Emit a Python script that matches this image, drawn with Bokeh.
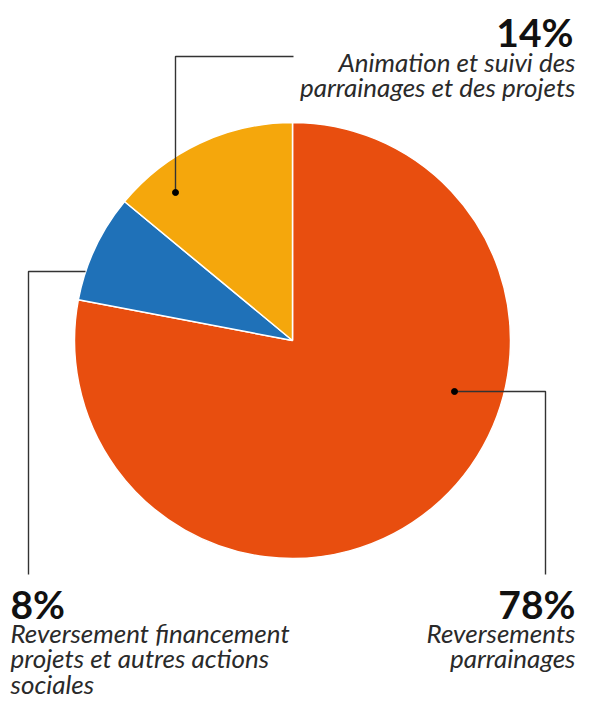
import math
from bokeh.plotting import figure
from bokeh.models import Range1d, ColumnDataSource
from bokeh.core.properties import value
from bokeh.embed import file_html
from bokeh.resources import INLINE

# ---- data ----
categories = ["Reversements parrainages",
              "Reversement financement projets et autres actions sociales",
              "Animation et suivi des parrainages et des projets"]
values = [78, 8, 14]
pct_labels = ["78%", "8%", "14%"]
desc_lines = [["Reversements", "parrainages"],
              ["Reversement financement", "projets et autres actions", "sociales"]]
desc_lines.append(["Animation et suivi des", "parrainages et des projets"])
colors = ["#E84E0F", "#1F71B8", "#F5A70C"]

# ---- layout (image pixel coords -> data) ----
W, H = 589, 709
def X(x): return x
def Y(y): return H - y

p = figure(width=W, height=H, output_backend="svg", toolbar_location=None,
           x_range=Range1d(0, W), y_range=Range1d(0, H),
           x_axis_location=None, y_axis_location=None, min_border=0)
p.grid.visible = False
p.outline_line_color = None
p.background_fill_color = "white"

cx, cy, r = X(292), Y(340), 218
total = sum(values)
starts, ends = [], []
cum = 0
for v in values:
    starts.append(math.radians(90 - cum / total * 360))
    cum += v
    ends.append(math.radians(90 - cum / total * 360))

src = ColumnDataSource(dict(start=starts, end=ends, color=colors, cat=categories))
p.wedge(x=cx, y=cy, radius=r, start_angle="start", end_angle="end", direction="clock",
        fill_color="color", line_color="white", line_width=1.5, source=src)

# leader lines
lc = "#333333"
p.line([X(175), X(175), X(293)], [Y(192), Y(56), Y(56)], line_color=lc, line_width=1.4)
p.scatter([X(175)], [Y(192)], size=6, color="black")
p.line([X(85), X(28), X(28)], [Y(271), Y(271), Y(574)], line_color=lc, line_width=1.4)
p.line([X(454), X(545), X(545)], [Y(391), Y(391), Y(574)], line_color=lc, line_width=1.4)
p.scatter([X(454)], [Y(391)], size=6, color="black")

font = value("Lato")
pct_pos = [(575, 603, "right"), (10, 603, "left"), (573, 31, "right")]
desc_base = [632, 632, 61]
for i in range(3):
    px, py, al = pct_pos[i]
    p.text(x=[X(px)], y=[Y(py)], text=[pct_labels[i]], text_font=font,
           text_font_style="bold", text_font_size="39px", text_align=al,
           text_baseline="alphabetic", text_color="#111111")
    lines = desc_lines[i]
    dx = 575 if al == "right" else px
    p.text(x=[X(dx)] * len(lines), y=[Y(desc_base[i] + 25.5 * k) for k in range(len(lines))],
           text=lines, text_font=font, text_font_style="italic", text_font_size="26px",
           text_align=al, text_baseline="alphabetic", text_color="#2a2a2a")

open("out.html", "w").write(file_html(p, INLINE))
